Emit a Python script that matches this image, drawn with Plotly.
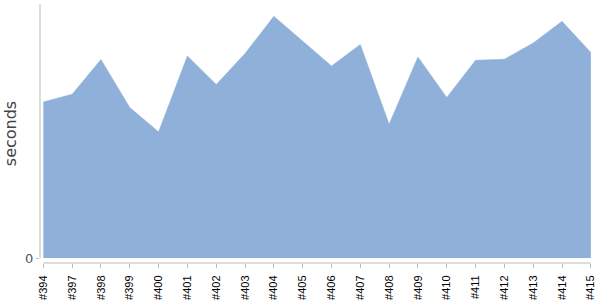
import plotly.graph_objects as go

builds = ["#394", "#397", "#398", "#399", "#400", "#401", "#402", "#403", "#404", "#405",
          "#406", "#407", "#408", "#409", "#410", "#411", "#412", "#413", "#414", "#415"]
seconds = [156.3, 164.0, 198.7, 150.7, 126.3, 202.3, 173.7, 204.7, 242.0, 216.7,
           192.3, 213.7, 134.0, 201.3, 160.7, 198.0, 199.0, 215.3, 237.0, 205.7]

fill_color = "#8fb1d9"
axis_color = "#bbbbbb"

fig = go.Figure()
fig.add_trace(go.Scatter(
    x=builds, y=seconds, mode="lines", fill="tozeroy",
    fillcolor=fill_color, line=dict(color=fill_color, width=0.5),
    hoverinfo="x+y",
))

n = len(builds)
fig.update_layout(
    width=600, height=300,
    margin=dict(l=40, r=8, t=4, b=37),
    paper_bgcolor="white", plot_bgcolor="white",
    showlegend=False,
    xaxis=dict(
        type="category", range=[-0.115, n - 1 + 0.04],
        showgrid=False, zeroline=False, showline=False, automargin=False,
        ticks="outside", ticklen=4, tickcolor=axis_color,
        ticklabelstandoff=3,
        tickangle=-90, tickfont=dict(family="Liberation Sans, Arial", size=11, color="black"),
    ),
    yaxis=dict(
        range=[-5, 254.3], tickvals=[0], ticktext=["0"],
        showgrid=False, zeroline=False, showline=False, automargin=False,
        ticks="outside", ticklen=3, tickcolor=axis_color,
        tickfont=dict(family="DejaVu Sans", size=13, color="#555555"),
        title=dict(text="seconds", font=dict(family="DejaVu Sans", size=16, color="#444444"), standoff=4),
    ),
    shapes=[
        dict(type="line", xref="paper", yref="y", x0=0, x1=0, y0=0, y1=254.3,
             line=dict(color=axis_color, width=1)),
        dict(type="line", xref="x", yref="paper", x0=builds[0], x1=builds[-1], y0=0, y1=0,
             line=dict(color=axis_color, width=1)),
    ],
)

fig.write_html("out.html")
